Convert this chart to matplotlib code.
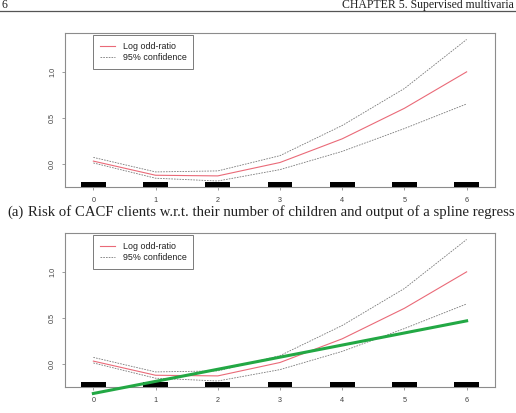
import matplotlib
matplotlib.use("Agg")
import matplotlib.pyplot as plt
from matplotlib.lines import Line2D

# ---- data ----
children = [0, 1, 2, 3, 4, 5, 6]
log_odds = [0.035, -0.118, -0.125, 0.02, 0.276, 0.606, 1.0]
upper_ci = [0.075, -0.082, -0.071, 0.094, 0.42, 0.82, 1.35]
lower_ci = [0.015, -0.15, -0.18, -0.057, 0.14, 0.387, 0.653]
linear_x = [0, 6]
linear_y = [-0.315, 0.47]
xticks = [0, 1, 2, 3, 4, 5, 6]
yticks = [0.0, 0.5, 1.0]
ytick_labels = ["0.0", "0.5", "1.0"]
legend_labels = ["Log odd-ratio", "95% confidence"]
header_left = "6"
header_right = "CHAPTER 5. Supervised multivaria"
caption_tag = "(a)"
caption_text = "Risk of CACF clients w.r.t. their number of children and output of a spline regress"

W, H = 516, 413
fig = plt.figure(figsize=(W / 100, H / 100), dpi=100)
plt.rcParams['font.family'] = ['Liberation Sans', 'DejaVu Sans']

RED = '#ea6a78'
GRAY = '#7a7a7a'
FRAME = '#8c8c8c'
TXT = '#404040'
YLIM = (-0.245, 1.42)
XLIM = (-0.456, 6.456)
RUG_H = 0.05
DASH = (0, (2.0, 1.3))


def make_axes(top_px, with_linear):
    bottom_px = top_px + 154
    ax = fig.add_axes([65 / W, 1 - bottom_px / H, 430 / W, 154 / H])
    ax.set_xlim(*XLIM)
    ax.set_ylim(*YLIM)
    ax.plot(children, log_odds, color=RED, lw=0.8)
    ax.plot(children, upper_ci, color=GRAY, lw=0.6, ls=DASH)
    ax.plot(children, lower_ci, color=GRAY, lw=0.6, ls=DASH)
    ax.bar(children, RUG_H, width=0.4, bottom=YLIM[0], color='black', zorder=3)
    if with_linear:
        ax.plot(linear_x, linear_y, color='#22a844', lw=2.2, clip_on=False, zorder=4)
    ax.set_xticks(xticks)
    ax.set_xticklabels([str(v) for v in xticks])
    ax.set_yticks(yticks)
    ax.set_yticklabels(ytick_labels, rotation=90, va='center')
    ax.tick_params(direction='out', length=2.5, width=0.6, colors=FRAME,
                   labelcolor=TXT, labelsize=5.2)
    ax.tick_params(axis='x', pad=5)
    ax.tick_params(axis='y', pad=4)
    for s in ax.spines.values():
        s.set_color(FRAME)
        s.set_linewidth(0.8)
    handles = [Line2D([], [], color=RED, lw=0.8),
               Line2D([], [], color=GRAY, lw=0.6, ls=DASH)]
    leg = ax.legend(handles, legend_labels, loc='upper left',
                    bbox_to_anchor=((93 - 65) / 430, 1 - 2 / 154),
                    borderaxespad=0, fancybox=False, framealpha=1,
                    edgecolor=GRAY, fontsize=6.4, handlelength=1.7,
                    handletextpad=0.9, labelspacing=0.25, borderpad=0.75)
    leg.get_frame().set_linewidth(0.7)
    for t in leg.get_texts():
        t.set_color('#202020')
    return ax


make_axes(33, False)
make_axes(233, True)

serif = ['Liberation Serif', 'DejaVu Serif']

# header (page header)
fig.text(1 / W, 1 - 8 / H, header_left, family=serif, fontsize=8.5,
         ha='left', va='baseline', color='#222222')
fig.text(514 / W, 1 - 8 / H, header_right, family=serif, fontsize=8.5,
         ha='right', va='baseline', color='#222222')
fig.add_artist(Line2D([0, 1], [1 - 10.5 / H, 1 - 10.5 / H], color='#555555', lw=0.9))

# caption
fig.text(7 / W, 1 - 212 / H, caption_tag, family=serif, fontsize=10.6,
         ha='left', va='center', color='#222222')
fig.text(28 / W, 1 - 212 / H, caption_text, family=serif, fontsize=10.6,
         ha='left', va='center', color='#222222')

fig.savefig('out.png', dpi=100)
